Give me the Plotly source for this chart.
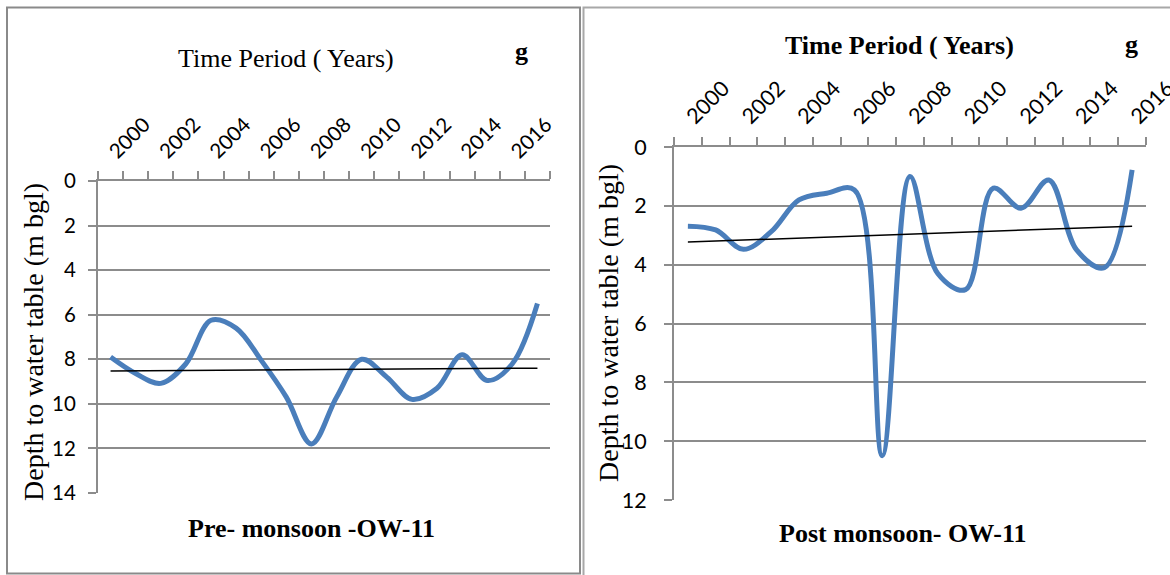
import numpy as np
import plotly.graph_objects as go

# ---------------- data ----------------
pre_years = list(range(2000, 2018))
pre_depth = [7.9, 8.64, 9.08, 8.2, 6.25, 6.6, 8.05, 9.7, 11.8, 9.7, 8.0, 8.8, 9.8, 9.3, 7.8, 8.95, 8.2, 5.5]

post_years = list(range(2000, 2017))
post_depth = [2.69, 2.82, 3.48, 2.88, 1.8, 1.57, 1.46, 10.5, 1.0, 4.3, 4.85, 1.4, 2.08, 1.12, 3.5, 4.1, 0.78]

tick_years = ["2000", "2002", "2004", "2006", "2008", "2010", "2012", "2014", "2016"]

pre_title = "Pre- monsoon -OW-11"
post_title = "Post monsoon- OW-11"
x_title = "Time Period ( Years)"
y_title = "Depth to water table (m bgl)"

# ---------------- styling ----------------
W, H = 1170, 575
BLUE = "#4a7ebb"
GRAY = "#8c8c8c"
SANS = "Lato, Carlito, sans-serif"
SERIF = "Liberation Serif, Times New Roman, serif"


def px(x):
    return x / W


def py(y):
    return 1 - y / H


fig = go.Figure()


def add_panel(idx, years, depth, xdom, ydom, ymax, fsize, ystand):
    xs = list(range(len(years)))
    xa = "x" if idx == 1 else "x2"
    ya = "y" if idx == 1 else "y2"
    fig.add_trace(go.Scatter(
        x=xs, y=depth, mode="lines", xaxis=xa, yaxis=ya,
        line=dict(color=BLUE, width=5, shape="spline", smoothing=1.0),
        showlegend=False, hoverinfo="skip"))
    slope, icpt = np.polyfit(xs, depth, 1)
    tx = [xs[0], xs[-1]]
    fig.add_trace(go.Scatter(
        x=tx, y=[icpt + slope * t for t in tx], mode="lines", xaxis=xa, yaxis=ya,
        line=dict(color="#000000", width=1.5), showlegend=False, hoverinfo="skip"))

    n = len(years)
    tv = [i for i, yr in enumerate(years) if str(yr) in tick_years]
    tt = [str(years[i]) for i in tv]
    tf = dict(family=SANS, size=fsize, color="#000000")
    key = "" if idx == 1 else "2"
    fig.update_layout(**{
        "xaxis" + key: dict(
            domain=xdom, anchor=ya, side="top", range=[-0.5, n - 0.5],
            tickmode="array", tickvals=tv, ticktext=tt, tickangle=-45,
            ticks="", tickfont=tf, showgrid=False, zeroline=False,
            showline=True, linecolor=GRAY, linewidth=2, automargin=False,
            ticklabelstandoff=8, ticklabeloverflow="allow",
            minor=dict(tickmode="array", tickvals=[i - 0.5 for i in range(n + 1)],
                       ticks="outside", ticklen=8, tickwidth=2, tickcolor=GRAY,
                       showgrid=False),
        ),
        "yaxis" + key: dict(
            domain=ydom, anchor=xa, range=[ymax, 0], dtick=2,
            tickmode="linear", tick0=0, automargin=False,
            ticks="outside", ticklen=8, tickwidth=2, tickcolor=GRAY,
            tickfont=tf, showgrid=True, gridcolor=GRAY, gridwidth=2,
            zeroline=False, showline=True, linecolor=GRAY, linewidth=2,
            ticklabelstandoff=ystand, ticklabeloverflow="allow",
        ),
    })


add_panel(1, pre_years, pre_depth, [px(98), px(550)], [py(493), py(181)], 14, 20.5, 8)
add_panel(2, post_years, post_depth, [px(674), px(1146)], [py(500), py(147)], 12, 21.5, 13)

ann = []
# left panel texts
ann.append(dict(x=px(286), y=py(58), text=x_title, font=dict(family=SERIF, size=26, color="#000")))
ann.append(dict(x=px(521), y=py(52), text="<b>g</b>", font=dict(family=SERIF, size=26, color="#000")))
ann.append(dict(x=px(33), y=py(342), text=y_title, textangle=-90, font=dict(family=SERIF, size=28, color="#000")))
ann.append(dict(x=px(311), y=py(528), text="<b>" + pre_title + "</b>", font=dict(family=SERIF, size=26, color="#000")))
# right panel texts
ann.append(dict(x=px(899), y=py(46), text="<b>" + x_title + "</b>", font=dict(family=SERIF, size=26, color="#000")))
ann.append(dict(x=px(1131), y=py(45), text="<b>g</b>", font=dict(family=SERIF, size=26, color="#000")))
ann.append(dict(x=px(608), y=py(323), text=y_title, textangle=-90, font=dict(family=SERIF, size=28, color="#000")))
ann.append(dict(x=px(903), y=py(533), text="<b>" + post_title + "</b>", font=dict(family=SERIF, size=26, color="#000")))
for a in ann:
    a.update(xref="paper", yref="paper", showarrow=False, xanchor="center", yanchor="middle")

shapes = [
    dict(type="rect", xref="paper", yref="paper", x0=px(7), x1=px(580), y0=py(573.5), y1=py(7.5),
         line=dict(color="#8a8a8a", width=2), layer="below"),
    dict(type="rect", xref="paper", yref="paper", x0=px(583.5), x1=px(1180), y0=py(590), y1=py(7.5),
         line=dict(color="#a8a8a8", width=2), layer="below"),
]

fig.update_layout(
    template="none",
    width=W, height=H, autosize=False,
    margin=dict(l=0, r=0, t=0, b=0, pad=0, autoexpand=False),
    paper_bgcolor="white", plot_bgcolor="white",
    annotations=ann, shapes=shapes,
)

fig.write_html(
    "out.html",
    config={"displayModeBar": False},
    post_script="document.documentElement.style.margin='0';document.body.style.margin='0';"
                "document.body.style.padding='0';document.body.style.overflow='hidden';",
)
